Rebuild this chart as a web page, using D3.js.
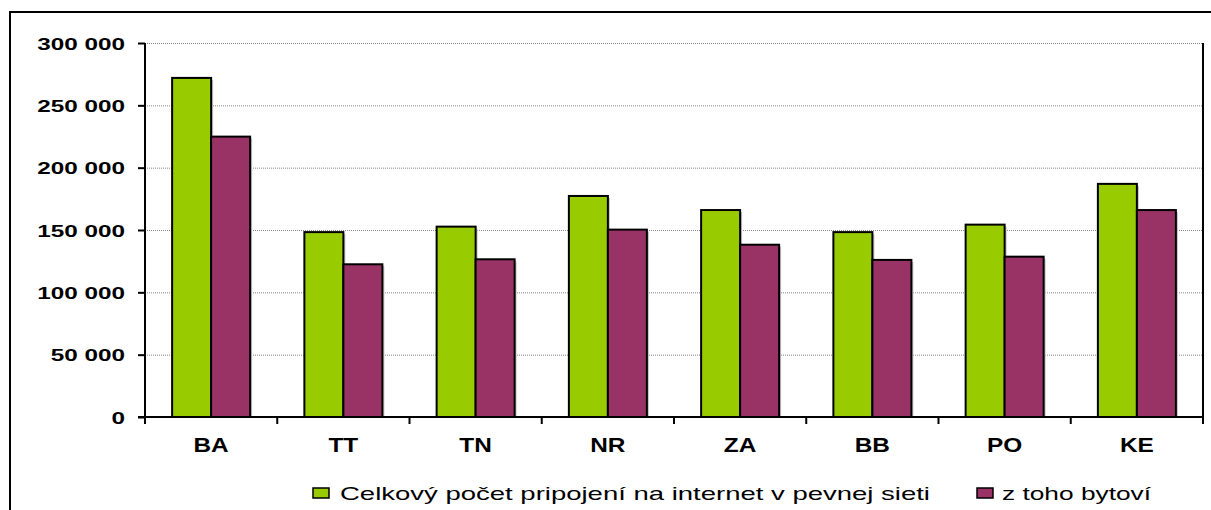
<!DOCTYPE html>
<html>
<head>
<meta charset="utf-8">
<script src="https://cdn.jsdelivr.net/npm/d3@7"></script>
<style>
body{margin:0;background:#fff;}
svg{display:block;font-family:"Liberation Sans",Arial,sans-serif;}
</style>
</head>
<body>
<div id="chart"></div>
<script>
var regions = ["BA","TT","TN","NR","ZA","BB","PO","KE"];
var celkovo = [272000,148300,152700,177300,166000,148300,154300,187000];
var bytove = [224900,122500,126500,150300,138200,126000,128600,166000];
var yTicks = [0,50000,100000,150000,200000,250000,300000];
var seriesNames = ["Celkový počet pripojení na internet v pevnej sieti","z toho bytoví"];
var colors = ["#99cc00","#993366"];

var W = 1211, H = 510;
var pLeft = 145, pRight = 1203, pTop = 43, pBottom = 417;

var svg = d3.select("#chart").append("svg").attr("width",W).attr("height",H);

// outer frame
svg.append("rect").attr("x",10).attr("y",12).attr("width",1220).attr("height",520)
	.attr("fill","none").attr("stroke","#000").attr("stroke-width",2);

var x = d3.scaleBand().domain(regions).range([pLeft,pRight]);
var inner = d3.scaleBand().domain([0,1]).range([0,78]);
var y = d3.scaleLinear().domain([0,300000]).range([pBottom,pTop]);

// gridlines
svg.append("g").selectAll("line").data(yTicks.slice(1)).enter().append("line")
	.attr("x1",pLeft).attr("x2",pRight)
	.attr("y1",function(d){return y(d)+0.5}).attr("y2",function(d){return y(d)+0.5})
	.attr("stroke","#888").attr("stroke-width",1).attr("stroke-dasharray","1,1");

// right border
svg.append("line").attr("x1",pRight).attr("x2",pRight).attr("y1",pTop).attr("y2",pBottom)
	.attr("stroke","#000").attr("stroke-width",2);

// bars
var groups = svg.append("g").selectAll("g").data(regions).enter().append("g")
	.attr("transform",function(d){return "translate("+(x(d)+x.bandwidth()/2-39)+",0)"});

[celkovo,bytove].forEach(function(vals,s){
	groups.append("rect")
		.attr("x",inner(s)+2).attr("y",function(d,i){return y(vals[i])+2})
		.attr("width",inner.bandwidth()).attr("height",function(d,i){return pBottom-y(vals[i])-2})
		.attr("fill","#c4c4c4");
});
[celkovo,bytove].forEach(function(vals,s){
	groups.append("rect")
		.attr("x",inner(s)).attr("y",function(d,i){return y(vals[i])})
		.attr("width",inner.bandwidth()).attr("height",function(d,i){return pBottom-y(vals[i])})
		.attr("fill",colors[s]).attr("stroke","#000").attr("stroke-width",2);
});

// y axis
var yAxis = svg.append("g").attr("transform","translate("+pLeft+",0)")
	.call(d3.axisLeft(y).tickValues(yTicks).tickSize(7)
		.tickFormat(function(d){return d3.format(",")(d).replace(/,/g," ")}));
yAxis.select(".domain").attr("stroke-width",2).attr("d","M0,"+pTop+"V"+pBottom);
yAxis.selectAll(".tick line").attr("stroke-width",2);
yAxis.selectAll("text").attr("font-size",17).attr("font-weight","bold").attr("fill","#000")
	.attr("font-family","Liberation Sans, Arial, sans-serif")
	.attr("x",0).attr("dy","0.36em")
	.attr("transform","translate(-20,0) scale(1.43,1)");

// x axis
var xAxis = svg.append("g").attr("transform","translate(0,"+pBottom+")");
xAxis.append("line").attr("x1",pLeft-7).attr("x2",pRight+1).attr("y1",0).attr("y2",0)
	.attr("stroke","#000").attr("stroke-width",2);
xAxis.selectAll("line.t").data(d3.range(regions.length+1)).enter().append("line")
	.attr("x1",function(i){return i<regions.length?x(regions[i]):pRight})
	.attr("x2",function(i){return i<regions.length?x(regions[i]):pRight})
	.attr("y1",0).attr("y2",7).attr("stroke","#000").attr("stroke-width",2);
xAxis.selectAll("text").data(regions).enter().append("text")
	.attr("transform",function(d){return "translate("+(x(d)+x.bandwidth()/2)+",35) scale(1.22,1)"})
	.attr("text-anchor","middle").attr("font-size",20).attr("font-weight","bold").text(function(d){return d});

// legend
var legX = [313,977];
var legW = [590,149];
var leg = svg.append("g").selectAll("g").data(seriesNames).enter().append("g")
	.attr("transform",function(d,i){return "translate("+legX[i]+",488)"});
leg.append("rect").attr("width",16).attr("height",10).attr("fill",function(d,i){return colors[i]})
	.attr("stroke","#000").attr("stroke-width",1.5);
leg.append("text").attr("x",function(d,i){return i==0?27:25}).attr("y",12).attr("font-size",19)
	.attr("textLength",function(d,i){return legW[i]}).attr("lengthAdjust","spacingAndGlyphs")
	.text(function(d){return d});
</script>
</body>
</html>
